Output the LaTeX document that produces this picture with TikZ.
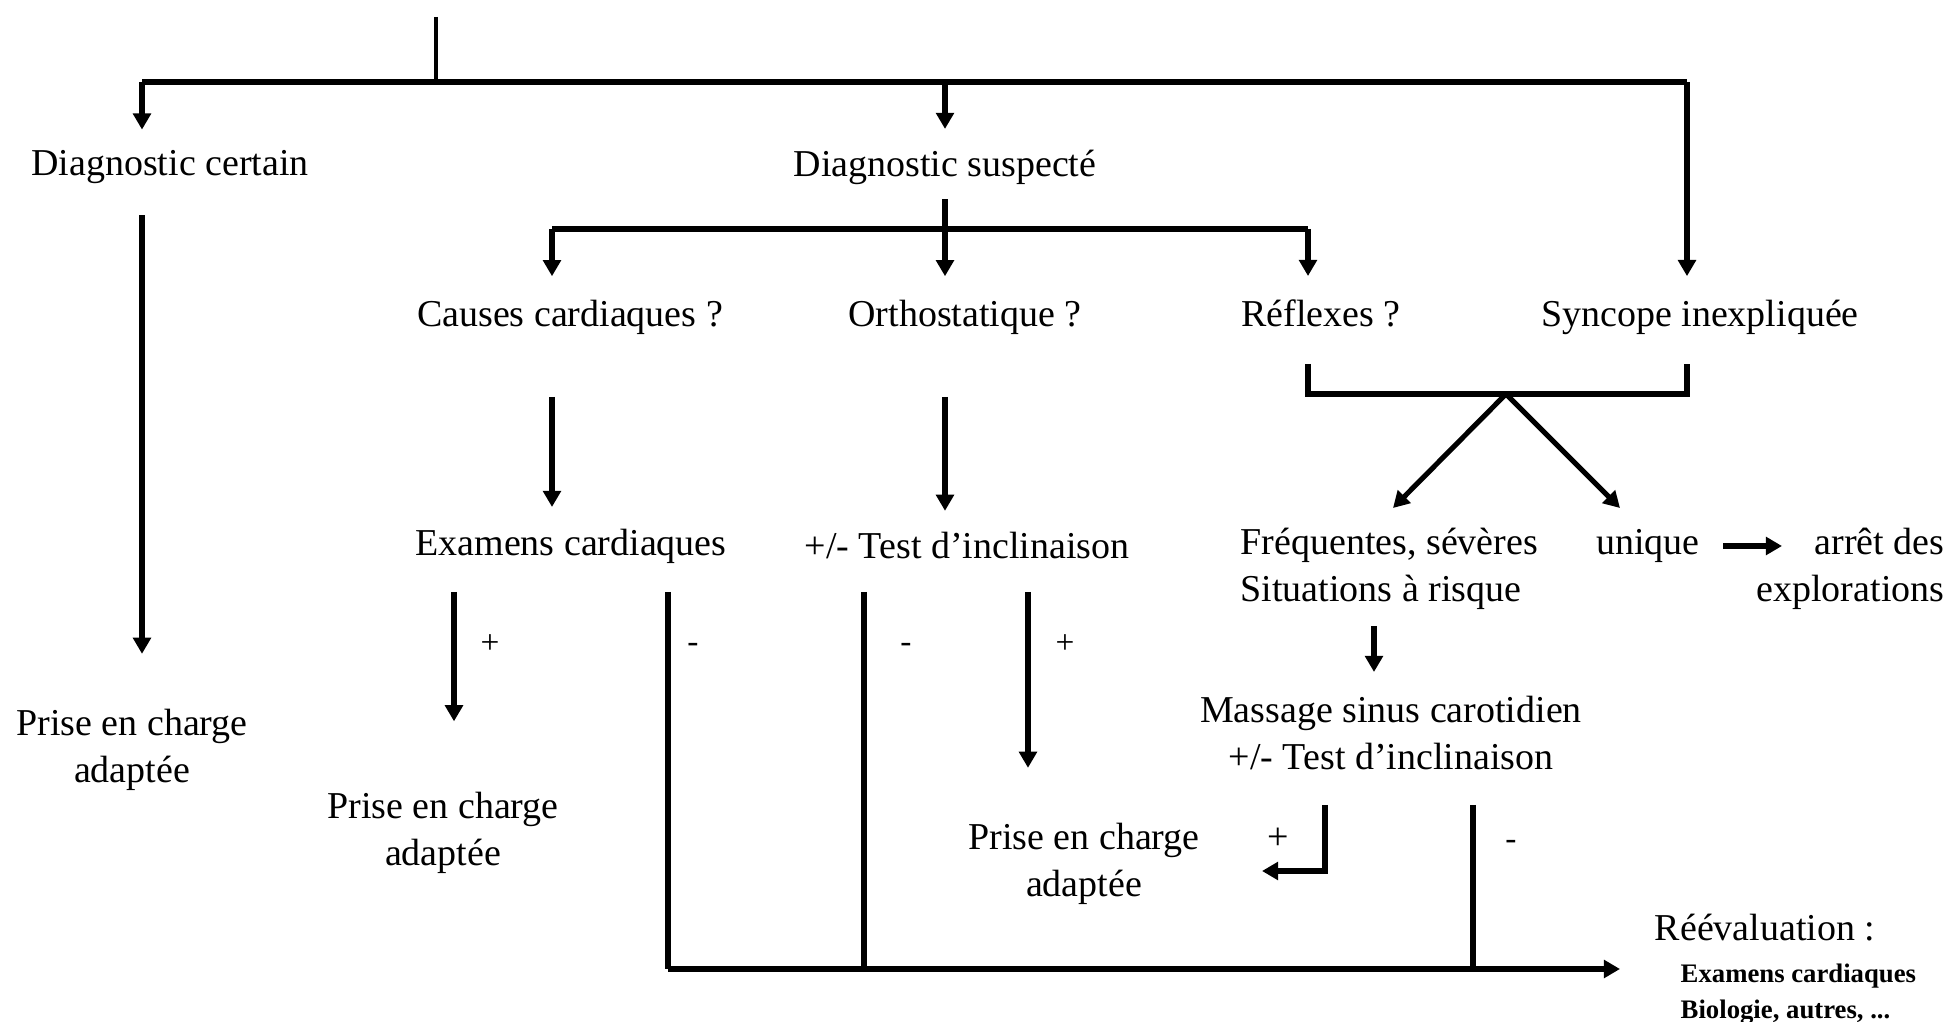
\documentclass[tikz,border=0pt]{standalone}
\usepackage{fontspec}
\setmainfont{Liberation Serif}
\usetikzlibrary{arrows.meta, positioning, calc}

\begin{document}
\begin{tikzpicture}[x=0.01cm, y=-0.01cm,
  txt/.style={font=\fontsize{10.8}{13.3}\selectfont, inner sep=0pt, align=center},
  sign/.style={font=\fontsize{9.5}{10}\selectfont, inner sep=0pt},
  link/.style={line width=1.45pt},
  arr/.style={link, -{Triangle[length=4.6pt, width=5pt]}},
  ]
\useasboundingbox (0,0) rectangle (1948,1022);

% === texts ===
\node[txt] (certain) at (170,167) {Diagnostic certain};
\node[txt] (suspect) at (945,167) {Diagnostic suspecté};
\node[txt] (causes) at (570,317) {Causes cardiaques ?};
\node[txt] (ortho) at (965,317) {Orthostatique ?};
\node[txt, text depth=2.3pt] (reflex) at (1321,317) {Réflexes ?};
\node[txt] (syncope) at (1700,317) {Syncope inexpliquée};
\node[txt] (exam) at (571,546) {Examens cardiaques};
\node[txt] (tilt) at (967,546) {+/- Test d’inclinaison};
\node[txt, align=left, anchor=west] (freq) at (1240,569) {Fréquentes, sévères\\Situations à risque};
\node[txt] (unique) at (1648,546) {unique};
\node[txt, align=right, anchor=east] (stop) at (1945,569) {arrêt des\\explorations};
\node[txt] (care1) at (132,750) {Prise en charge\\adaptée};
\node[txt] (care2) at (443,833) {Prise en charge\\adaptée};
\node[txt] (care3) at (1084,864) {Prise en charge\\adaptée};
\node[txt] (massage) at (1391,733) {Massage sinus carotidien\\+/- Test d’inclinaison};
\node[txt] (reeval) at (1765,928) {Réévaluation :};
\node[txt, font=\fontsize{7.6}{10.2}\selectfont\bfseries, align=left, anchor=west] (tests) at (1680,994) {Examens cardiaques\\Biologie, autres, ...};

% === signs ===
\node[sign] (examyes-s) at (490,644) {+};
\node[sign] (examno-s) at (693,648) {-};
\node[sign] (tiltno-s) at (906,648) {-};
\node[sign] (tiltyes-s) at (1065,644) {+};
\node[txt] (massyes-s) at (1278,839) {+};
\node[sign] (massno-s) at (1511,845) {-};

% === junctions ===
\coordinate (root) at (436,17);
\coordinate (fork1) at (436,82);
\coordinate (fork1l) at (142,82);
\coordinate (fork1r) at (1687,82);
\coordinate (fork2l) at (552,229);
\coordinate (fork2r) at (1308,229);
\coordinate (brl) at (1308,394);
\coordinate (apex) at (1506,394);
\coordinate (brr) at (1687,394);
\coordinate (freqtip) at (1393,508);
\coordinate (unitip) at (1620,508);
\coordinate (stoptip) at (1782,546);
\coordinate (examyes) at (454,592);
\coordinate (examno) at (668,592);
\coordinate (tiltno) at (864,592);
\coordinate (tiltyes) at (1028,592);
\coordinate (freqout) at (1374,626);
\coordinate (massin) at (1374,672);
\coordinate (massyes) at (1325,805);
\coordinate (massno) at (1473,805);
\coordinate (careback) at (1262,871);
\coordinate (barl) at (668,969);
\coordinate (barr) at (1620,969);

% === first level ===
\draw[link, line width=1.1pt] (root) -- (fork1);
\draw[link] (fork1l) -- (fork1r);
\draw[arr, shorten >=5.7pt] (fork1l) -- (fork1l |- certain.north);
\draw[arr, shorten >=5.7pt] (suspect.north |- fork1) -- (suspect.north);
\draw[arr, shorten >=6.5pt] (fork1r) -- (fork1r |- syncope.north);

% === diagnostic suspecte ===
\draw[arr, shorten <=4pt, shorten >=6.5pt] (suspect.south) -- (suspect.south |- ortho.north);
\draw[link] (fork2l) -- (fork2r);
\draw[arr, shorten >=6.5pt] (fork2l) -- (fork2l |- causes.north);
\draw[arr, shorten >=6.5pt] (fork2r) -- (fork2r |- reflex.north);

% left branch
\draw[arr, shorten <=8.8pt, shorten >=15.6pt] (certain.south -| fork1l) -- (care1.north -| fork1l);

% cardiac / orthostatic
\draw[arr, shorten <=17.6pt, shorten >=6pt] (causes.south -| fork2l) -- (exam.north -| fork2l);
\draw[arr, shorten <=17.6pt, shorten >=6pt] (suspect.south |- ortho.south) -- (suspect.south |- tilt.north);
\draw[arr, shorten >=20pt] (examyes) -- (examyes |- care2.north);
\draw[arr, shorten >=15.6pt] (tiltyes) -- (tiltyes |- care3.north);

% reflex / unexplained
\draw[link, shorten <=8.2pt, shorten >=8.2pt] (brl |- reflex.south) -- (brl) -- (brr) -- (brr |- syncope.south);
\draw[arr] (apex) -- (freqtip);
\draw[arr] (apex) -- (unitip);
\draw[arr, shorten <=6.5pt] (unique.east) -- (stoptip);
\draw[arr] (freqout) -- (massin);
\draw[arr] (massyes) |- (careback);

% reevaluation
\draw[link] (examno) -- (barl);
\draw[link] (tiltno) -- (tiltno |- barl);
\draw[link] (massno) -- (massno |- barl);
\draw[arr] (barl) -- (barr);

\end{tikzpicture}
\end{document}
